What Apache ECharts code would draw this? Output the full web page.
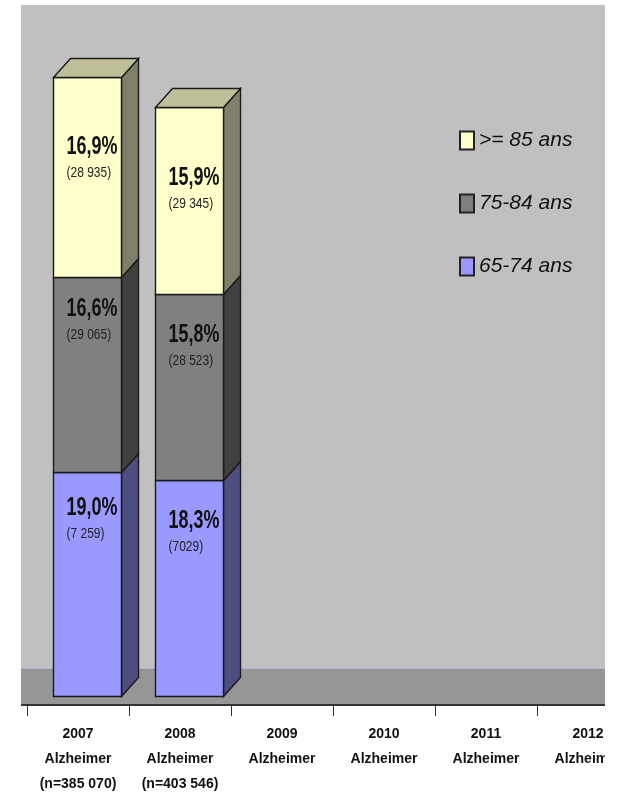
<!DOCTYPE html>
<html><head><meta charset="utf-8">
<script src="https://cdn.jsdelivr.net/npm/echarts@6/dist/echarts.min.js"></script>
<style>html,body{margin:0;padding:0;background:#fff;overflow:hidden}#c{width:605px;height:792px;overflow:hidden}</style>
</head><body><div id="c"></div>
<script>
var categories = ['2007\nAlzheimer\n(n=385 070)','2008\nAlzheimer\n(n=403 546)','2009\nAlzheimer','2010\nAlzheimer','2011\nAlzheimer','2012\nAlzheimer'];
var pct6574 = [19.0, 18.3];
var pct7584 = [16.6, 15.8];
var pct85 = [16.9, 15.9];
var count6574 = ['(7 259)', '(7029)'];
var count7584 = ['(29 065)', '(28 523)'];
var count85 = ['(28 935)', '(29 345)'];
var pctText6574 = ['19,0%', '18,3%'];
var pctText7584 = ['16,6%', '15,8%'];
var pctText85 = ['16,9%', '15,9%'];
// layout only: distance of the label from the top of its segment, px
var labelDrop = {a:[35,40], b:[31,40], c:[69,70]};

var F = '"Liberation Sans",Arial,sans-serif';
function rows(lowerArrs, vals, pt, ct, drop){
  return vals.map(function(v,i){
    var lo = lowerArrs.reduce(function(s,a){return s+a[i];},0);
    return [i, lo, lo+v, pt[i], ct[i], drop[i]];
  });
}
function renderer(front, side, top, hasTop){
  return function(params, api){
    var i = api.value(0), lo = api.value(1), hi = api.value(2);
    var band = api.size([1,0])[0];
    var w = band*0.667, dx = band/6, dy = 19;
    var cx = api.coord([i,0])[0]+9;
    var x0 = Math.round(cx-w/2)+0.5, x1 = x0+Math.round(w);
    var yb = Math.round(api.coord([i,lo])[1])+0.5, yt = Math.round(api.coord([i,hi])[1])+0.5;
    var ln = {stroke:'#1a1a1a', lineWidth:1.4};
    var kids = [
      {type:'polygon',shape:{points:[[x1,yb],[x1+dx,yb-dy],[x1+dx,yt-dy],[x1,yt]]},style:Object.assign({fill:side},ln)},
      {type:'rect',shape:{x:x0,y:yt,width:x1-x0,height:yb-yt},style:Object.assign({fill:front},ln)}
    ];
    if(hasTop) kids.push({type:'polygon',shape:{points:[[x0,yt],[x0+dx,yt-dy],[x1+dx,yt-dy],[x1,yt]]},style:Object.assign({fill:top},ln)});
    var tx = x0+13, ty = yt+api.value(5);
    kids.push({type:'text',x:tx,y:ty,scaleX:0.69,style:{text:api.value(3),x:0,y:0,font:'bold 26px '+F,fill:'#111',align:'left',verticalAlign:'middle'}});
    kids.push({type:'text',x:tx,y:ty+26,scaleX:0.8,style:{text:api.value(4),x:0,y:0,font:'15px '+F,fill:'#222',align:'left',verticalAlign:'middle'}});
    return {type:'group',children:kids};
  };
}
function mk(name, data, front, side, top, hasTop){
  return {name:name,type:'custom',clip:false,coordinateSystem:'cartesian2d',
    itemStyle:{color:front,borderColor:'#222',borderWidth:1},
    encode:{x:0,y:[1,2]},data:data,renderItem:renderer(front,side,top,hasTop)};
}
var chart = echarts.init(document.getElementById('c'),null,{renderer:'canvas'});
chart.setOption({
  animation:false,
  backgroundColor:'#fff',
  graphic:[
    {type:'rect',z:-1,shape:{x:21,y:5,width:584,height:664},style:{fill:'#C0C0C0'}},
    {type:'rect',z:-1,shape:{x:21,y:669,width:584,height:35},style:{fill:'#969696'}},
    {type:'rect',z:-1,shape:{x:21,y:668,width:584,height:1},style:{fill:'#B4B4DC'}},
    {type:'rect',z:-1,shape:{x:21,y:704,width:7,height:2},style:{fill:'#333'}}
  ],
  legend:{
    orient:'vertical',left:459,top:130,padding:0,icon:'rect',itemWidth:14,itemHeight:18,itemGap:42,
    data:['>= 85 ans','75-84 ans','65-74 ans'],
    selectedMode:false,
    textStyle:{fontFamily:F,fontStyle:'italic',fontSize:21,color:'#111'}
  },
  grid:{left:27,top:5,width:612,height:691,containLabel:false,outerBoundsMode:'none'},
  xAxis:{type:'category',data:categories,offset:9,
    axisLine:{show:true,onZero:false,lineStyle:{color:'#333',width:2}},
    axisTick:{show:true,length:11,alignWithLabel:false,lineStyle:{color:'#333'}},
    axisLabel:{interval:0,margin:17,fontFamily:F,fontSize:14,fontWeight:'bold',color:'#111',lineHeight:25,verticalAlign:'top',hideOverlap:false}},
  yAxis:{type:'value',min:0,max:58.65,show:false,splitLine:{show:false}},
  series:[
    mk('65-74 ans',rows([],pct6574,pctText6574,count6574,labelDrop.a),'#9999FF','#4D4D80','#4D4D80',false),
    mk('75-84 ans',rows([pct6574],pct7584,pctText7584,count7584,labelDrop.b),'#808080','#404040','#404040',false),
    mk('>= 85 ans',rows([pct6574,pct7584],pct85,pctText85,count85,labelDrop.c),'#FFFFCC','#80806A','#BFBF99',true)
  ]
});
</script></body></html>
